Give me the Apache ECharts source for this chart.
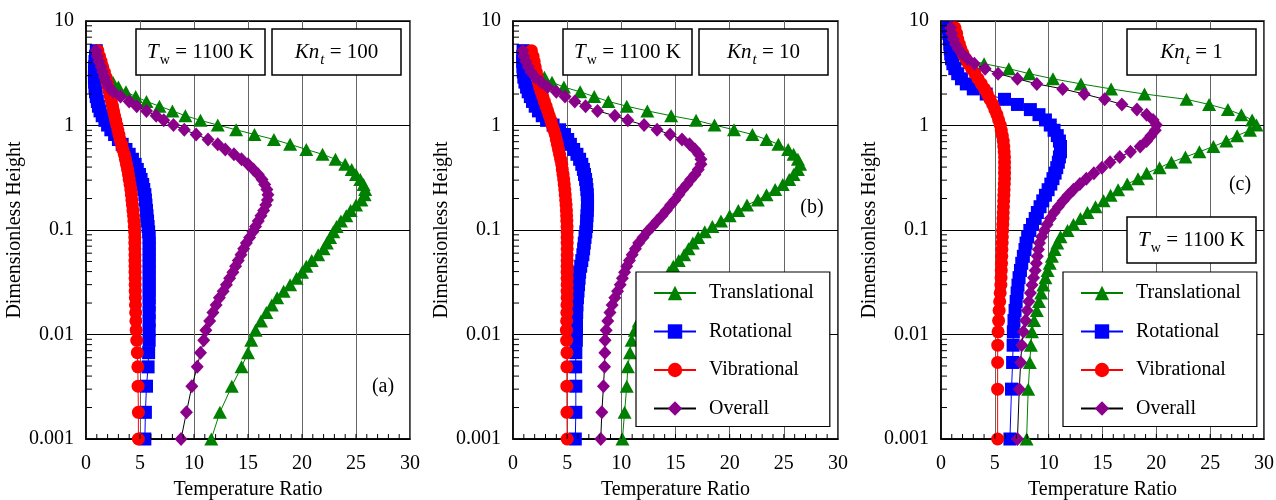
<!DOCTYPE html>
<html>
<head>
<meta charset="utf-8">
<script src="https://cdn.jsdelivr.net/npm/echarts@6/dist/echarts.min.js"></script>
<style>
  html, body { margin: 0; padding: 0; background: #fff; }
  #chart { width: 1276px; height: 500px; }
</style>
</head>
<body>
<div id="chart"></div>
<script>
// Heights (dimensionless) of the mesh points, bottom to top
const heightsAB = [0.001, 0.0018, 0.0032, 0.0049, 0.0067, 0.0088, 0.011, 0.0135, 0.0162, 0.0192,
  0.0225, 0.026, 0.030, 0.0345, 0.0395, 0.045, 0.051, 0.058, 0.066, 0.075,
  0.085, 0.096, 0.108, 0.122, 0.137, 0.154, 0.173, 0.194, 0.218, 0.244,
  0.273, 0.305, 0.34, 0.38, 0.425, 0.475, 0.53, 0.59, 0.66, 0.735,
  0.82, 0.91, 1.01, 1.12, 1.24, 1.38, 1.53, 1.70, 1.89, 2.1,
  2.33, 2.6, 2.9, 3.25, 3.65, 4.1, 4.6, 5.2];
const heightsC = [0.001, 0.003, 0.0054, 0.0079, 0.0106, 0.0136, 0.017, 0.0207, 0.025, 0.0297,
  0.035, 0.041, 0.048, 0.056, 0.065, 0.075, 0.086, 0.099, 0.113, 0.129,
  0.147, 0.167, 0.19, 0.215, 0.243, 0.275, 0.31, 0.35, 0.395, 0.445,
  0.5, 0.56, 0.63, 0.71, 0.8, 0.9, 1.01, 1.13, 1.27, 1.42,
  1.59, 1.78, 2.0, 2.24, 2.5, 2.8, 3.13, 3.5, 3.9, 4.35,
  4.85, 5.4, 6.0, 6.7, 7.6, 8.6];

// (a) Kn_t = 100
const transA = [11.6, 12.4, 13.5, 14.4, 15.0, 15.3, 15.7, 16.2, 16.7, 17.2,
  17.7, 18.3, 18.9, 19.5, 20.0, 20.4, 20.9, 21.5, 22.0, 22.3,
  22.6, 22.9, 23.2, 23.6, 24.1, 24.5, 25.0, 25.5, 25.8, 25.85,
  25.7, 25.4, 25.0, 24.6, 24.0, 23.1, 21.9, 20.4, 18.9, 17.4,
  15.6, 13.9, 12.2, 10.6, 9.2, 8.0, 6.8, 5.6, 4.6, 3.7,
  3.0, 2.5, 2.1, 1.8, 1.55, 1.35, 1.2, 1.1];
const rotA = [5.45, 5.5, 5.6, 5.75, 5.8, 5.85, 5.85, 5.85, 5.85, 5.85,
  5.85, 5.85, 5.85, 5.85, 5.85, 5.85, 5.85, 5.85, 5.85, 5.85,
  5.85, 5.8, 5.75, 5.7, 5.65, 5.6, 5.55, 5.5, 5.45, 5.35,
  5.25, 5.1, 4.95, 4.75, 4.55, 4.3, 4.0, 3.7, 3.35, 3.0,
  2.65, 2.3, 2.0, 1.75, 1.5, 1.3, 1.15, 1.05, 0.95, 0.88,
  0.83, 0.8, 0.78, 0.78, 0.8, 0.83, 0.88, 0.95];
const vibA = [4.85, 4.85, 4.82, 4.8, 4.75, 4.7, 4.65, 4.62, 4.6, 4.58,
  4.57, 4.56, 4.55, 4.55, 4.54, 4.54, 4.53, 4.53, 4.52, 4.52,
  4.52, 4.5, 4.47, 4.44, 4.4, 4.35, 4.3, 4.25, 4.2, 4.15,
  4.08, 4.0, 3.93, 3.85, 3.75, 3.65, 3.55, 3.4, 3.3, 3.15,
  3.05, 2.95, 2.85, 2.75, 2.65, 2.55, 2.45, 2.35, 2.25, 2.15,
  2.05, 1.95, 1.85, 1.7, 1.55, 1.4, 1.25, 1.1];
const overA = [8.8, 9.3, 9.8, 10.3, 10.6, 10.9, 11.1, 11.45, 11.75, 12.05,
  12.35, 12.7, 13.0, 13.3, 13.6, 13.85, 14.1, 14.35, 14.6, 14.85,
  15.15, 15.45, 15.7, 15.95, 16.2, 16.45, 16.65, 16.8, 16.85, 16.75,
  16.55, 16.3, 15.95, 15.5, 15.0, 14.4, 13.7, 12.9, 12.2, 11.3,
  10.2, 9.1, 8.1, 7.2, 6.5, 5.6, 4.7, 4.0, 3.2, 2.5,
  2.1, 1.9, 1.7, 1.55, 1.4, 1.2, 1.05, 0.95];

// (b) Kn_t = 10
const transB = [10.1, 10.3, 10.5, 10.6, 10.8, 10.95, 11.25, 11.6, 12.0, 12.4,
  12.8, 13.2, 13.6, 14.0, 14.4, 14.8, 15.3, 15.8, 16.2, 16.6,
  17.1, 17.7, 18.4, 19.2, 20.0, 20.8, 21.6, 22.6, 23.4, 24.2,
  24.9, 25.5, 25.9, 26.3, 26.5, 26.3, 25.9, 25.4, 24.5, 23.4,
  22.1, 20.4, 18.6, 16.9, 14.6, 12.4, 10.5, 8.8, 7.5, 6.2,
  4.7, 3.6, 2.9, 2.3, 1.9, 1.6, 1.35, 1.2];
const rotB = [5.75, 5.8, 5.8, 5.78, 5.8, 5.85, 5.86, 5.86, 5.88, 5.9,
  5.95, 6.0, 6.05, 6.1, 6.15, 6.25, 6.35, 6.45, 6.52, 6.58,
  6.65, 6.72, 6.78, 6.8, 6.83, 6.86, 6.88, 6.88, 6.86, 6.82,
  6.77, 6.7, 6.6, 6.5, 6.35, 6.15, 5.9, 5.6, 5.3, 5.05,
  4.75, 4.3, 3.7, 3.1, 2.7, 2.35, 2.05, 1.8, 1.6, 1.4,
  1.25, 1.1, 1.0, 0.95, 0.92, 0.9, 0.9, 0.93];
const vibB = [5.0, 4.98, 4.97, 4.97, 4.98, 4.95, 4.93, 4.95, 4.97, 4.98,
  5.0, 5.0, 5.0, 5.0, 5.0, 5.0, 5.0, 5.0, 5.0, 5.0,
  5.0, 5.0, 4.99, 4.97, 4.95, 4.93, 4.9, 4.86, 4.82, 4.78,
  4.73, 4.68, 4.62, 4.55, 4.5, 4.4, 4.3, 4.2, 4.1, 4.0,
  3.9, 3.75, 3.6, 3.5, 3.35, 3.2, 3.05, 2.9, 2.75, 2.6,
  2.45, 2.35, 2.25, 2.15, 2.05, 1.95, 1.85, 1.7];
const overB = [8.1, 8.2, 8.35, 8.45, 8.48, 8.5, 8.6, 8.75, 8.95, 9.15,
  9.4, 9.65, 9.9, 10.1, 10.3, 10.5, 10.75, 11.0, 11.3, 11.6,
  12.0, 12.4, 12.85, 13.3, 13.75, 14.15, 14.55, 14.95, 15.3, 15.65,
  16.05, 16.4, 16.8, 17.1, 17.35, 17.35, 17.15, 16.8, 16.3, 15.6,
  14.5, 13.3, 12.1, 10.6, 9.4, 7.8, 6.7, 5.7, 4.8, 4.0,
  3.2, 2.6, 2.05, 1.65, 1.4, 1.2, 1.0, 0.9];

// (c) Kn_t = 1
const transC = [7.95, 8.1, 8.25, 8.35, 8.45, 8.65, 8.9, 9.1, 9.3, 9.5,
  9.7, 9.9, 10.1, 10.3, 10.55, 10.8, 11.1, 11.75, 12.3, 12.95,
  13.6, 14.35, 15.1, 15.75, 16.45, 17.3, 18.3, 19.1, 20.3, 21.4,
  22.7, 24.0, 25.3, 26.5, 27.5, 28.7, 29.3, 28.9, 27.9, 26.65,
  24.9, 22.8, 18.9, 15.8, 13.0, 10.4, 8.2, 6.3, 4.0, 2.2,
  1.8, 1.5, 1.3, 1.1, 0.95, 0.85];
const rotC = [6.4, 6.55, 6.65, 6.7, 6.72, 6.78, 6.88, 6.98, 7.07, 7.15,
  7.25, 7.38, 7.5, 7.65, 7.8, 7.9, 8.05, 8.25, 8.5, 8.75,
  8.95, 9.2, 9.45, 9.7, 9.95, 10.2, 10.4, 10.6, 10.75, 10.9,
  11.0, 11.1, 11.1, 11.0, 10.8, 10.5, 10.15, 9.7, 9.1, 8.3,
  7.1, 5.9, 4.2, 3.0, 2.35, 1.9, 1.55, 1.28, 1.1, 0.98,
  0.9, 0.86, 0.82, 0.78, 0.72, 0.7];
const vibC = [5.26, 5.26, 5.26, 5.27, 5.3, 5.35, 5.4, 5.45, 5.5, 5.56,
  5.58, 5.6, 5.62, 5.64, 5.66, 5.68, 5.7, 5.72, 5.74, 5.76,
  5.78, 5.8, 5.82, 5.84, 5.86, 5.88, 5.9, 5.9, 5.9, 5.9,
  5.9, 5.87, 5.83, 5.78, 5.7, 5.6, 5.5, 5.35, 5.2, 5.0,
  4.8, 4.55, 4.3, 4.05, 3.75, 3.45, 3.15, 2.85, 2.55, 2.3,
  2.05, 1.85, 1.7, 1.55, 1.45, 1.3];
const overC = [7.1, 7.27, 7.4, 7.5, 7.65, 7.85, 8.0, 8.15, 8.3, 8.45,
  8.6, 8.75, 8.85, 8.95, 9.05, 9.15, 9.35, 9.6, 9.85, 10.15,
  10.5, 10.9, 11.35, 11.8, 12.3, 12.9, 13.5, 14.2, 14.95, 15.7,
  16.6, 17.6, 18.5, 19.1, 19.5, 19.9, 20.0, 19.7, 19.1, 18.2,
  16.8, 15.2, 13.3, 11.3, 8.9, 7.1, 5.3, 4.1, 3.1, 2.45,
  1.95, 1.6, 1.35, 1.15, 1.0, 0.9];

const seriesNames = ['Translational', 'Rotational', 'Vibrational', 'Overall'];
const xTickLabels = ['0', '5', '10', '15', '20', '25', '30'];
const yTickLabels = ['0.001', '0.01', '0.1', '1', '10'];
const panelTags = ['(a)', '(b)', '(c)'];

const FONT = "'Liberation Serif', 'Times New Roman', serif";

const panels = [
  { h: heightsAB, t: transA, r: rotA, v: vibA, o: overA },
  { h: heightsAB, t: transB, r: rotB, v: vibB, o: overB },
  { h: heightsC,  t: transC, r: rotC, v: vibC, o: overC }
];

const gridRects = [
  { left: 86,  top: 21, width: 324, height: 418 },
  { left: 513, top: 21, width: 325, height: 418 },
  { left: 941, top: 21, width: 323, height: 418 }
];

const styles = [
  { symbol: 'triangle', size: [14, 13], color: '#008000', line: '#008000' },
  { symbol: 'rect',     size: [13, 13], color: '#0000ff', line: '#0000ff' },
  { symbol: 'circle',   size: 13,       color: '#ff0000', line: '#ff0000' },
  { symbol: 'diamond',  size: [13, 14], color: '#8b008b', line: '#000000' }
];

// log-scale minor tick positions (2..9 within each decade) and unit ticks on x
const yMinor = [];
[0.001, 0.01, 0.1, 1].forEach(d => { for (let k = 2; k <= 9; k++) yMinor.push(+(d * k).toPrecision(3)); });
const xMinor = [];
for (let k = 1; k < 30; k++) xMinor.push(k);

const grid = gridRects.map(g => Object.assign({
  show: true, borderColor: '#000', borderWidth: 1.5, backgroundColor: 'transparent',
  containLabel: false, outerBoundsMode: 'none'
}, g));

const xAxis = gridRects.map((g, i) => ({
  type: 'value', gridIndex: i, min: 0, max: 30, interval: 5,
  name: 'Temperature Ratio', nameLocation: 'middle', nameGap: 41,
  nameTextStyle: { fontFamily: FONT, fontSize: 20, color: '#000' },
  axisLine: { show: true, lineStyle: { color: '#000', width: 1.5 } },
  axisTick: { show: false },
  axisLabel: { fontFamily: FONT, fontSize: 20, color: '#000', margin: 15,
    formatter: v => xTickLabels[Math.round(v / 5)] },
  splitLine: { show: true, lineStyle: { color: '#666', width: 1 } }
}));

const yAxis = gridRects.map((g, i) => ({
  type: 'log', logBase: 10, gridIndex: i, min: 0.001, max: 10,
  name: 'Dimensionless Height', nameLocation: 'middle', nameGap: 50,
  nameTextStyle: { fontFamily: FONT, fontSize: 20, color: '#000' },
  axisLine: { show: true, lineStyle: { color: '#000', width: 1.5 } },
  axisTick: { show: false },
  axisLabel: { fontFamily: FONT, fontSize: 20, color: '#000', margin: 12,
    formatter: v => yTickLabels[Math.round(Math.log10(v)) + 3] },
  splitLine: { show: true, lineStyle: { color: '#000', width: 1 } }
}));

const series = [];
panels.forEach((p, i) => {
  [p.t, p.r, p.v, p.o].forEach((vals, k) => {
    const s = styles[k];
    series.push({
      type: 'line', name: seriesNames[k], xAxisIndex: i, yAxisIndex: i,
      data: p.h.map((h, j) => [vals[j], h]),
      symbol: s.symbol, symbolSize: s.size, showSymbol: true, showAllSymbol: true,
      clip: false, silent: true, animation: false, z: 2 + k,
      itemStyle: { color: s.color, borderWidth: 0 },
      lineStyle: { color: s.line, width: 1 },
      emphasis: { disabled: true }
    });
  });
  // minor ticks along the left axis (pointing inward)
  series.push({
    type: 'custom', xAxisIndex: i, yAxisIndex: i, silent: true, animation: false, clip: false, z: 10,
    data: yMinor.map(v => [0, v]), encode: { x: 0, y: 1 },
    renderItem: (params, api) => {
      const c = api.coord([api.value(0), api.value(1)]);
      return { type: 'line', shape: { x1: c[0], y1: c[1], x2: c[0] + 6, y2: c[1] },
        style: { stroke: '#000', lineWidth: 1 } };
    }
  });
  // unit ticks along the bottom axis (pointing inward)
  series.push({
    type: 'custom', xAxisIndex: i, yAxisIndex: i, silent: true, animation: false, clip: false, z: 10,
    data: xMinor.map(v => [v, 0.001]), encode: { x: 0, y: 1 },
    renderItem: (params, api) => {
      const c = api.coord([api.value(0), api.value(1)]);
      return { type: 'line', shape: { x1: c[0], y1: c[1], x2: c[0], y2: c[1] - 5 },
        style: { stroke: '#000', lineWidth: 1 } };
    }
  });
});

const legendBase = {
  orient: 'vertical', top: 272,
  itemWidth: 42, itemHeight: 18, itemGap: 18.5,
  padding: [11, 16, 8, 17],
  backgroundColor: '#fff', borderColor: '#000', borderWidth: 1.2, borderRadius: 0,
  selectedMode: false, data: seriesNames, z: 20,
  textStyle: { fontFamily: FONT, fontSize: 20, color: '#000', padding: [0, 0, 0, 8] }
};
const legend = [
  Object.assign({}, legendBase, { left: 636 }),
  Object.assign({}, legendBase, { left: 1063 })
];

// boxed annotations
const rich = {
  it: { fontFamily: FONT, fontSize: 21, fontStyle: 'italic', fill: '#000' },
  sub: { fontFamily: FONT, fontSize: 14, padding: [16, 0, 0, 1], fill: '#000' },
  subit: { fontFamily: FONT, fontSize: 15, fontStyle: 'italic', padding: [17, 0, 0, 1], fill: '#000' },
  rm: { fontFamily: FONT, fontSize: 21, fill: '#000' }
};
function box(x, y, w, h, text) {
  return [
    { type: 'rect', z: 20, shape: { x: x, y: y, width: w, height: h },
      style: { fill: '#fff', stroke: '#000', lineWidth: 1.5 } },
    { type: 'text', z: 21, x: x + w / 2, y: y + h / 2,
      style: { text: text, rich: rich, align: 'center', verticalAlign: 'middle',
        fontFamily: FONT, fontSize: 21, fill: '#000' } }
  ];
}
const twText = '{it|T}{sub|w}{rm| = 1100 K}';
const knText = n => '{it|Kn}{subit|t}{rm| = ' + n + '}';

const graphic = [].concat(
  box(136, 29, 129, 46, twText),
  box(272, 29, 129, 46, knText(100)),
  box(563, 29, 129, 46, twText),
  box(699, 29, 129, 46, knText(10)),
  box(1127, 29, 129, 46, knText(1)),
  box(1127, 217, 129, 46, twText),
  [
    { type: 'text', z: 21, x: 383, y: 387, style: { text: panelTags[0], align: 'center', verticalAlign: 'middle', fontFamily: FONT, fontSize: 20, fill: '#000' } },
    { type: 'text', z: 21, x: 812, y: 208, style: { text: panelTags[1], align: 'center', verticalAlign: 'middle', fontFamily: FONT, fontSize: 20, fill: '#000' } },
    { type: 'text', z: 21, x: 1240, y: 185, style: { text: panelTags[2], align: 'center', verticalAlign: 'middle', fontFamily: FONT, fontSize: 20, fill: '#000' } }
  ]
);

const chart = echarts.init(document.getElementById('chart'), null, { renderer: 'canvas' });
chart.setOption({
  animation: false,
  backgroundColor: '#fff',
  grid: grid, xAxis: xAxis, yAxis: yAxis,
  legend: legend, series: series, graphic: graphic
});
</script>
</body>
</html>
